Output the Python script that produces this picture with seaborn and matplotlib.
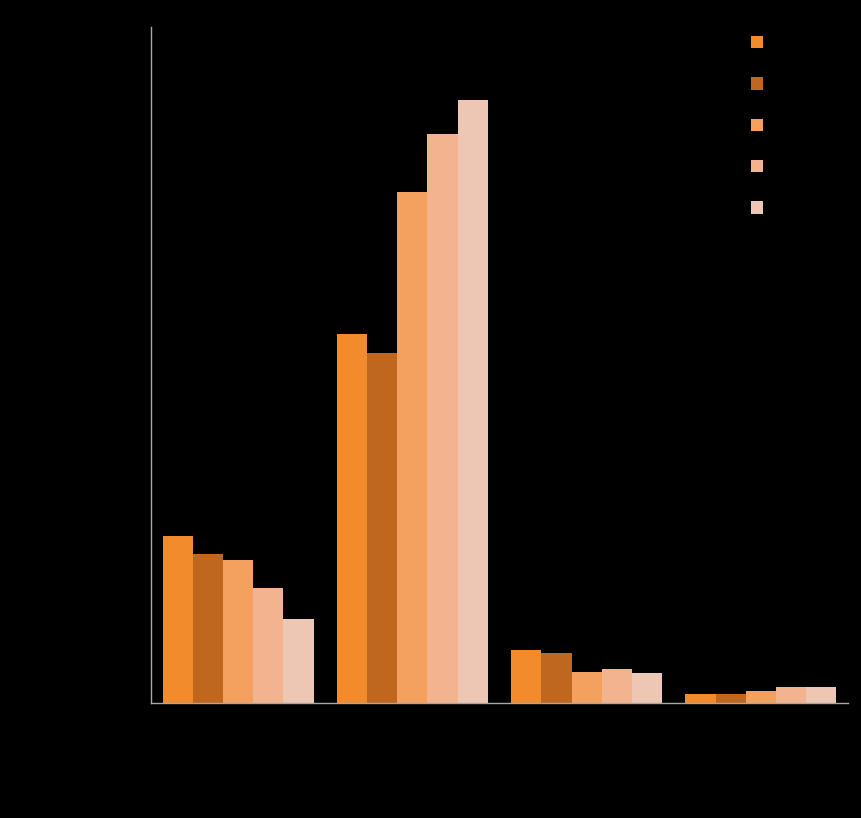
import matplotlib
matplotlib.use("Agg")
import matplotlib.pyplot as plt
import seaborn as sns
import pandas as pd

categories = ["Category 1", "Category 2", "Category 3", "Category 4"]
series_names = ["Series 1", "Series 2", "Series 3", "Series 4", "Series 5"]
series_1 = [167, 369, 53, 9]
series_2 = [149, 350, 50, 9]
series_3 = [143, 511, 31, 12]
series_4 = [115, 569, 34, 16]
series_5 = [84, 603, 30, 16]
all_series = [series_1, series_2, series_3, series_4, series_5]

palette = ["#F28B2C", "#BF661F", "#F4A160", "#F2B38E", "#EDC7B3"]

rows = []
for name, vals in zip(series_names, all_series):
    for cat, v in zip(categories, vals):
        rows.append({"category": cat, "series": name, "value": v})
df = pd.DataFrame(rows)

sns.set_style("dark")
fig = plt.figure(figsize=(8.62, 8.18), dpi=100, facecolor="black")
ax = fig.add_axes([151/862, 1 - 703/818, (848-151)/862, (703-27)/818])
ax.set_facecolor("black")

sns.barplot(data=df, x="category", y="value", hue="series", palette=palette,
            width=0.867, saturation=1, ax=ax, edgecolor="none", legend=True)

ax.set_ylim(0, 676)
ax.set_xlim(-0.5, 3.5)
ax.grid(False)
for s in ["top", "right"]:
    ax.spines[s].set_visible(False)
for s in ["left", "bottom"]:
    ax.spines[s].set_visible(True)
    ax.spines[s].set_color("#A8A8A8")
    ax.spines[s].set_linewidth(1.0)
ax.tick_params(axis="both", length=0, colors="black", labelcolor="black")
ax.set_yticklabels([])
ax.set_xlabel("")
ax.set_ylabel("")

handles, labels = ax.get_legend_handles_labels()
leg = ax.legend(handles, labels, loc="upper left",
                bbox_to_anchor=(751/862, 1 - 34/818), bbox_transform=fig.transFigure,
                frameon=False, fontsize=12, handlelength=0.75, handleheight=0.75,
                labelspacing=1.4, handletextpad=0.6, borderaxespad=0, borderpad=0)
for t in leg.get_texts():
    t.set_color("black")

fig.savefig("out.png", dpi=100, facecolor="black")
